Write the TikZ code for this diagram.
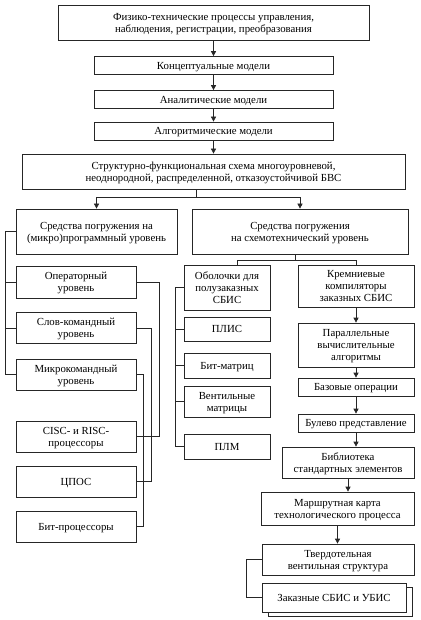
\documentclass[tikz,border=0pt]{standalone}
\usepackage{fontspec}
\setmainfont{Liberation Serif}
\usetikzlibrary{arrows.meta,shadows}

\tikzset{
  box/.style={draw,fill=white,align=center,inner sep=1pt,text depth=0pt,
    font=\fontsize{10.8}{12}\selectfont},
  >={Triangle[length=5pt,width=5pt]}
}

\begin{document}
\begin{tikzpicture}[x=1pt,y=-1pt,line width=0.7pt,draw=black!85]
      \useasboundingbox (0,0) rectangle (420,620);
      \foreach \pos/\w/\h/\name/\txt in {
        {(213.5,22.5)/311/35/phys/{Физико-технические процессы управления,\\наблюдения, регистрации, преобразования}},
        {(213.5,65.5)/239/18/concept/Концептуальные модели},
        {(213.5,99.5)/239/18/analyt/Аналитические модели},
        {(213.5,131)/239/18/algor/Алгоритмические модели},
        {(213.5,171.5)/383/35/struct/{Структурно-функциональная схема многоуровневой,\\неоднородной, распределенной, отказоустойчивой БВС}},
        {(96.5,231.5)/161/45/micro/Средства погружения на\\(микро)программный уровень},
        {(300,231.5)/216/45/circ/Средства погружения\\на схемотехнический уровень},
        {(76,282)/120/32/oper/Операторный\\уровень},
        {(76,328)/120/31/slov/Слов-командный\\уровень},
        {(76,374.5)/120/31/mkom/Микрокомандный\\уровень},
        {(76,436.5)/120/31/cisc/CISC- и RISC-\\процессоры},
        {(76,481.5)/120/31/cpos/ЦПОС},
        {(76,526.5)/120/31/bitp/Бит-процессоры},
        {(227,287.5)/86/45/shell/Оболочки для\\полузаказных\\СБИС},
        {(227,329)/86/24/plis/ПЛИС},
        {(227,365.5)/86/25/bitm/Бит-матриц},
        {(227,401.5)/86/31/vent/Вентильные\\матрицы},
        {(227,446.5)/86/25/plm/ПЛМ},
        {(356,286)/116/42/krem/Кремниевые\\компиляторы\\заказных СБИС},
        {(356,345)/116/44/par/Параллельные\\вычислительные\\алгоритмы},
        {(356,387)/116/18/baz/Базовые операции},
        {(356,423)/116/18/bul/Булево представление},
        {(348,462.5)/132/31/bib/Библиотека\\стандартных элементов},
        {(337.5,508.5)/153/33/mar/Маршрутная карта\\технологического процесса},
        {(338,559.5)/152/31/tve/Твердотельная\\вентильная структура}}
      \node[box,minimum width=\w,minimum height=\h] (\name) at \pos {\txt};
      \node[box,minimum width=144,minimum height=29,
        copy shadow={shadow xshift=6pt,shadow yshift=-4pt}] (zak) at (334,597.5) {Заказные СБИС и УБИС};
      \foreach \source/\dest in {phys/concept, concept/analyt, analyt/algor, algor/struct,
        krem/par, par/baz, baz/bul, bul/bib, bib/mar, mar/tve}
      \draw[->] (\source.south) -- (\source.south |- \dest.north);
      \coordinate (fork) at (196,197);
      \draw (struct.south -| fork) -- (fork);
      \draw[->] (fork) -| (micro);
      \draw[->] (fork) -| (circ);
      \coordinate (fork2) at (295,260);
      \draw (circ.south -| fork2) -- (fork2) -| ([xshift=10]shell.north);
      \draw (fork2) -| (krem);
      \draw (micro.west) -- ++(-10,0) |- (mkom.west);
      \foreach \name in {oper, slov}
      \draw (\name.west) -- ++(-10,0);
      \draw (shell.west) -- ++(-8,0) |- (plm.west);
      \foreach \name in {plis, bitm, vent}
      \draw (\name.west) -- ++(-8,0);
      \foreach \source/\dest/\d in {oper/cisc/23, slov/cpos/15, mkom/bitp/7}
      \draw (\source.east) -- ++(\d,0) |- (\dest.east);
      \draw (tve.west) -- ++(-15,0) |- (zak.west);
    \end{tikzpicture}
\end{document}
